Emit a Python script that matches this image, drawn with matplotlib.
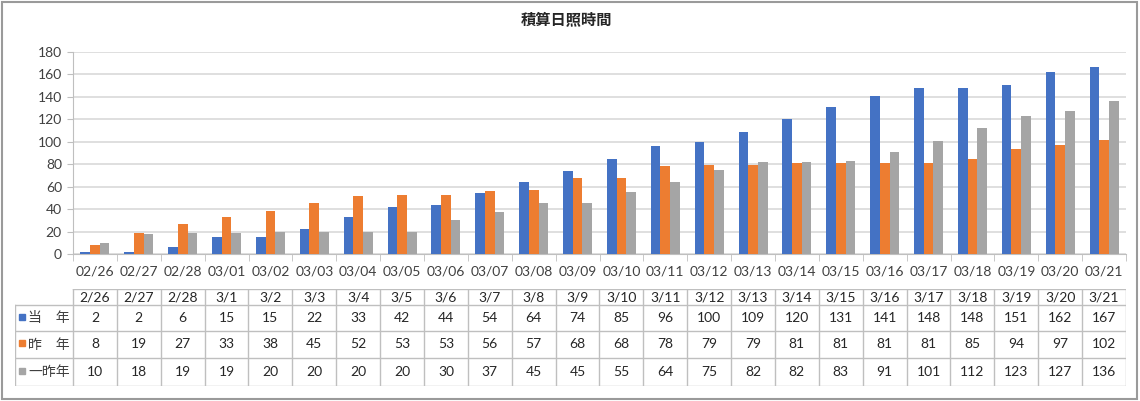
import numpy as np
import matplotlib
matplotlib.use("Agg")
import matplotlib.pyplot as plt
from matplotlib.patches import Rectangle

plt.rcParams['font.family'] = ['Lato', 'Noto Sans CJK JP', 'DejaVu Sans']

# data
axis_labels = ["02/26", "02/27", "02/28", "03/01", "03/02", "03/03", "03/04", "03/05",
               "03/06", "03/07", "03/08", "03/09", "03/10", "03/11", "03/12", "03/13",
               "03/14", "03/15", "03/16", "03/17", "03/18", "03/19", "03/20", "03/21"]
table_labels = ["2/26", "2/27", "2/28", "3/1", "3/2", "3/3", "3/4", "3/5", "3/6", "3/7",
                "3/8", "3/9", "3/10", "3/11", "3/12", "3/13", "3/14", "3/15", "3/16",
                "3/17", "3/18", "3/19", "3/20", "3/21"]
this_year = [2, 2, 6, 15, 15, 22, 33, 42, 44, 54, 64, 74, 85, 96, 100, 109, 120, 131,
             141, 148, 148, 151, 162, 167]
last_year = [8, 19, 27, 33, 38, 45, 52, 53, 53, 56, 57, 68, 68, 78, 79, 79, 81, 81,
             81, 81, 85, 94, 97, 102]
two_years_ago = [10, 18, 19, 19, 20, 20, 20, 20, 30, 37, 45, 45, 55, 64, 75, 82, 82, 83,
                 91, 101, 112, 123, 127, 136]
series_names = ["当　年", "昨　年", "一昨年"]
colors = ["#4472C4", "#ED7D31", "#A5A5A5"]

W, H = 1140, 401
fig = plt.figure(figsize=(W / 100, H / 100), dpi=100)

# outer frame
fig.patches.append(Rectangle((0.002, 0.004), 0.995, 0.992, transform=fig.transFigure,
                             fill=False, edgecolor="#9A9A9A", lw=1.5))

ax_l, ax_r = 73, 1126
ax = fig.add_axes([ax_l / W, 1 - 254 / H, (ax_r - ax_l) / W, (254 - 52) / H])

x = np.arange(len(axis_labels))
w = 0.22
all_series = [this_year, last_year, two_years_ago]
for k, vals in enumerate(all_series):
    ax.bar(x + (k - 1) * w, vals, width=w, color=colors[k], zorder=3)

ax.set_xlim(-0.5, len(x) - 0.5)
ax.set_ylim(0, 180)
ax.set_yticks(np.arange(0, 181, 20))
ax.yaxis.grid(True, color="#D9D9D9", lw=1.2, zorder=0)
ax.set_xticks(x)
ax.set_xticklabels(axis_labels, fontsize=10, color="#404040")
ax.set_xticks(np.arange(-0.5, len(x), 1), minor=True)
ax.tick_params(axis="x", which="major", length=0, pad=8)
ax.tick_params(axis="x", which="minor", length=5, color="#BFBFBF")
ax.tick_params(axis="y", length=4, color="#BFBFBF", labelsize=10, labelcolor="#404040", pad=4)
for s in ["top", "right"]:
    ax.spines[s].set_visible(False)
for s in ["left", "bottom"]:
    ax.spines[s].set_color("#BFBFBF")

fig.text(0.497, 0.948, "積算日照時間", ha="center", va="center", fontsize=11,
         fontweight="bold", color="#262626")

# data table below the chart
unit = (ax_r - ax_l) / len(x)
lab_l = 15
tx_l = -0.5 - (ax_l - lab_l) / unit
tab_top, tab_bot = 289, 386
tb = fig.add_axes([lab_l / W, 1 - tab_bot / H, (ax_r - lab_l) / W, (tab_bot - tab_top) / H])
tb.set_xlim(tx_l, len(x) - 0.5)
tb.set_ylim(tab_bot - tab_top, 0)
tb.axis("off")

rows = [0, 16, 42, 69, 97]
lc = "#BFBFBF"
# horizontal lines
tb.plot([-0.5, len(x) - 0.5], [rows[0], rows[0]], color=lc, lw=1)
for r in rows[1:]:
    tb.plot([tx_l, len(x) - 0.5], [r, r], color=lc, lw=1)
# vertical lines
tb.plot([tx_l, tx_l], [rows[1], rows[-1]], color=lc, lw=1)
for b in np.arange(-0.5, len(x), 1):
    tb.plot([b, b], [rows[0], rows[-1]], color=lc, lw=1)

for i, lab in enumerate(table_labels):
    tb.text(i, (rows[0] + rows[1]) / 2, lab, ha="center", va="center", fontsize=10,
            color="#262626")
    for k, vals in enumerate(all_series):
        tb.text(i, (rows[k + 1] + rows[k + 2]) / 2, str(vals[i]),
                ha="center", va="center", fontsize=10, color="#262626")

for k, name in enumerate(series_names):
    yc = (rows[k + 1] + rows[k + 2]) / 2
    tb.plot([tx_l + 0.15], [yc - 1.5], marker="s", ms=5, color=colors[k], lw=0)
    tb.text(tx_l + 0.3, yc, name, ha="left", va="center", fontsize=10, color="#404040",
            family=["Noto Sans CJK JP"])

fig.savefig("out.png", dpi=100)
